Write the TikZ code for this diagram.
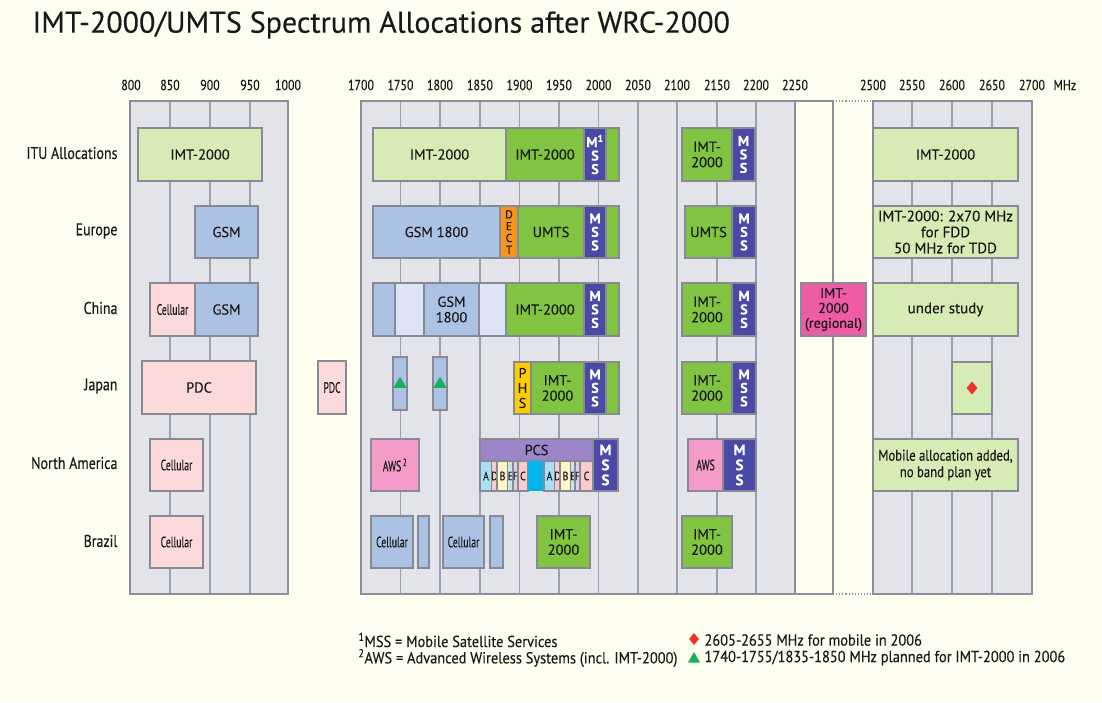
\documentclass[tikz,border=0pt]{standalone}
\usepackage{fontspec}
\setmainfont{PT Sans}[FakeBold=0.25]
\newfontfamily\narrowfont{PT Sans}[FakeStretch=0.82, FakeBold=0.25]
\newfontfamily\notefont{PT Sans}[FakeStretch=0.9, FakeBold=0.25]
\newfontfamily\squeezefont{PT Sans}[FakeStretch=0.64, FakeBold=0.25]
\usetikzlibrary{shapes.geometric}

\definecolor{bgcream}{RGB}{255,255,240}
\definecolor{panelfill}{RGB}{227,227,234}
\definecolor{panelline}{RGB}{140,142,156}
\definecolor{boxline}{RGB}{135,137,148}
\definecolor{lgreen}{RGB}{214,236,181}
\definecolor{dgreen}{RGB}{128,196,66}
\definecolor{mssblue}{RGB}{74,74,166}
\definecolor{gsmblue}{RGB}{172,194,228}
\definecolor{paleblue}{RGB}{220,228,245}
\definecolor{cellpink}{RGB}{253,218,218}
\definecolor{awspink}{RGB}{245,155,200}
\definecolor{regpink}{RGB}{238,92,166}
\definecolor{dectorange}{RGB}{247,148,30}
\definecolor{phsyellow}{RGB}{255,204,0}
\definecolor{pcspurple}{RGB}{155,135,200}
\definecolor{subA}{RGB}{170,224,245}
\definecolor{subD}{RGB}{250,202,206}
\definecolor{subB}{RGB}{255,245,200}
\definecolor{subE}{RGB}{200,232,232}
\definecolor{subF}{RGB}{218,208,234}
\definecolor{subgap}{RGB}{0,180,238}
\definecolor{trigreen}{RGB}{27,175,93}
\definecolor{diared}{RGB}{238,49,36}
\definecolor{inkgray}{RGB}{25,25,25}

% a band box given by its left, right, top and bottom edges
\newcommand\band[7][]{%
  \node[bandbox,#1,minimum width={#4-#3},minimum height={#6-#5}] (#2)
    at ({(#3+#4)/2},{(#5+#6)/2}) {#7};}

\tikzset{
  panel/.style={draw=panelline, line width=1.4pt, fill=panelfill, inner sep=0pt, outer sep=0pt},
  tickline/.style={draw=panelline!85, line width=1.3pt},
  bandbox/.style={draw=boxline, line width=1.1pt, inner sep=0pt, outer sep=0pt,
    align=center, text=inkgray, font=\fontsize{14.5}{15.5}\selectfont},
  squeeze/.style={font=\squeezefont\fontsize{15}{16}\selectfont},
  mss/.style={fill=mssblue, text=white, font=\bfseries\fontsize{14}{13.5}\selectfont},
  vert/.style={font=\fontsize{11.5}{11.8}\selectfont},
  sub/.style={font=\narrowfont\fontsize{12}{12}\selectfont},
  axislab/.style={text=inkgray, font=\narrowfont\fontsize{14.5}{15}\selectfont},
  rowlab/.style={anchor=east, text=inkgray, font=\narrowfont\fontsize{17}{18}\selectfont},
  note/.style={anchor=west, text=inkgray, font=\notefont\fontsize{16}{17}\selectfont},
  tri/.style={regular polygon, regular polygon sides=3, fill=trigreen, inner sep=0pt, minimum size=15pt},
  dia/.style={diamond, fill=diared, inner sep=0pt, minimum width=11pt, minimum height=13pt},
}

\begin{document}
\begin{tikzpicture}[x=1pt,y=-1pt]
\useasboundingbox (0,0) rectangle (1102,702);
\fill[bgcream] (0,0) rectangle (1102,702);

% title
\node[anchor=west, text=inkgray, font=\fontsize{30}{32}\selectfont] (title) at (29,25)
  {IMT-2000/UMTS Spectrum Allocations after WRC-2000};

% frequency panels
\node[panel, minimum width=158, minimum height=493] (p1) at (209,347.5) {};
\node[panel, minimum width=472, minimum height=493] (p2) at (597,347.5) {};
\node[panel, fill=bgcream, minimum width=38, minimum height=493] (p2gap) at (814,347.5) {};
\node[panel, minimum width=159, minimum height=493] (p3) at (952.5,347.5) {};
\draw[panelline, line width=1.1pt, dotted] (p2.north east) -- (p3.north west);
\draw[panelline, line width=1.1pt, dotted] (p2.south east) -- (p3.south west);

% 50 MHz grid
\foreach \x in {170,210,250,400.5,440,480,519.5,559,598.5,638,677,717,756}
  \draw[tickline] (\x,101.7) -- (\x,593.3);
\foreach \x in {912,952,992}
  \draw[tickline] (\x,101.7) -- (\x,593.3);

% axis labels
\foreach \x/\t in {131/800,170/850,210/900,250/950,288/1000,
  361/1700,400.5/1750,440/1800,480/1850,519.5/1900,559/1950,598.5/2000,
  638/2050,677/2100,717/2150,756/2200,795/2250,
  873/2500,912/2550,952/2600,992/2650,1032/2700}
  \node[axislab] (ax\t) at (\x,85) {\t};
\node[axislab, anchor=west] (axunit) at (1050,85) {MHz};

% row labels
\node[rowlab] (rowITU) at (121,153) {ITU Allocations};
\node[rowlab] (rowEU) at (121,231) {Europe};
\node[rowlab] (rowCN) at (121,308) {China};
\node[rowlab] (rowJP) at (121,386) {Japan};
\node[rowlab] (rowNA) at (121,463) {North America};
\node[rowlab] (rowBR) at (121,541) {Brazil};

% 800-1000 MHz
\band[fill=lgreen]{ituA}{138}{262}{128}{181}{IMT-2000}
\band[fill=gsmblue]{euA}{195}{258}{206}{258}{GSM}
\band[fill=cellpink, squeeze]{cnA1}{150}{195}{283}{336}{Cellular}
\band[fill=gsmblue]{cnA2}{195}{258}{283}{336}{GSM}
\band[fill=cellpink]{jpA}{142}{256}{361}{414}{PDC}
\band[fill=cellpink, squeeze]{jpA2}{318}{346}{361}{414}{PDC}
\band[fill=cellpink, squeeze]{naA}{150}{203}{439}{491}{Cellular}
\band[fill=cellpink, squeeze]{brA}{150}{203}{516}{568}{Cellular}

% 1700-2025 MHz
\band[fill=lgreen]{ituB1}{373}{506}{128}{181}{IMT-2000}
\band[fill=dgreen]{ituB2}{506}{584}{128}{181}{IMT-2000}
\band[mss]{ituB3}{584}{606}{128}{181}{M\textsuperscript{1}\\S\\S}
\band[fill=dgreen]{ituB4}{606}{619}{128}{181}{}

\band[fill=gsmblue]{euB1}{373}{500}{206}{258}{GSM 1800}
\band[fill=dectorange, vert]{euB2}{500}{518}{206}{258}{D\\E\\C\\T}
\band[fill=dgreen]{euB3}{518}{584}{206}{258}{UMTS}
\band[mss]{euB4}{584}{606}{206}{258}{M\\S\\S}
\band[fill=dgreen]{euB5}{606}{619}{206}{258}{}

\band[fill=gsmblue]{cnB1}{373}{395}{283}{336}{}
\band[fill=paleblue]{cnB2}{395}{424}{283}{336}{}
\band[fill=gsmblue]{cnB3}{424}{479}{283}{336}{GSM\\1800}
\band[fill=paleblue]{cnB4}{479}{506}{283}{336}{}
\band[fill=dgreen]{cnB5}{506}{584}{283}{336}{IMT-2000}
\band[mss]{cnB6}{584}{606}{283}{336}{M\\S\\S}
\band[fill=dgreen]{cnB7}{606}{619}{283}{336}{}

\band[fill=gsmblue]{jpB1}{393}{407}{357}{410}{}
\band[fill=gsmblue]{jpB2}{433}{447}{357}{410}{}
\node[tri] (triB1) at (400,384) {};
\node[tri] (triB2) at (440,384) {};
\band[fill=phsyellow, font=\fontsize{14}{15}\selectfont]{jpB3}{514}{531}{362}{414}{P\\H\\S}
\band[fill=dgreen]{jpB4}{531}{584}{362}{414}{IMT-\\2000}
\band[mss]{jpB5}{584}{606}{362}{414}{M\\S\\S}
\band[fill=dgreen]{jpB6}{606}{619}{362}{414}{}

\band[fill=awspink, squeeze]{naB1}{371}{419}{439}{491}{AWS\textsuperscript{\,2}}
\band[fill=pcspurple]{naPCS}{480}{593}{439}{461}{PCS}
\band[fill=subA, sub]{pcsA1}{480}{492}{461}{491}{A}
\band[fill=subD, sub]{pcsD1}{492}{497}{461}{491}{D}
\band[fill=subB, sub]{pcsB1}{497}{508}{461}{491}{B}
\band[fill=subE, sub]{pcsE1}{508}{513}{461}{491}{E}
\band[fill=subF, sub]{pcsF1}{513}{518}{461}{491}{F}
\band[fill=subD, sub]{pcsC1}{518}{528}{461}{491}{C}
\band[fill=subgap, draw=none]{pcsGap}{528}{544}{461}{491}{}
\band[fill=subA, sub]{pcsA2}{544}{555}{461}{491}{A}
\band[fill=subD, sub]{pcsD2}{555}{560}{461}{491}{D}
\band[fill=subB, sub]{pcsB2}{560}{571}{461}{491}{B}
\band[fill=subE, sub]{pcsE2}{571}{575}{461}{491}{E}
\band[fill=subF, sub]{pcsF2}{575}{580}{461}{491}{F}
\band[fill=subD, sub]{pcsC2}{580}{593}{461}{491}{C}
\band[mss, font=\bfseries\fontsize{15}{15}\selectfont]{naB2}{593}{618}{439}{491}{M\\S\\S}

\band[fill=gsmblue, squeeze]{brB1}{371}{413}{516}{568}{Cellular}
\band[fill=gsmblue]{brB2}{418}{429}{516}{568}{}
\band[fill=gsmblue, squeeze]{brB3}{443}{484}{516}{568}{Cellular}
\band[fill=gsmblue]{brB4}{490}{503}{516}{568}{}
\band[fill=dgreen]{brB5}{537}{590}{516}{568}{IMT-\\2000}

% 2100-2300 MHz
\band[fill=dgreen]{ituC1}{682}{732}{128}{181}{IMT-\\2000}
\band[mss]{ituC2}{732}{755}{128}{181}{M\\S\\S}
\band[fill=dgreen]{euC1}{685}{732}{206}{258}{UMTS}
\band[mss]{euC2}{732}{756}{206}{258}{M\\S\\S}
\band[fill=dgreen]{cnC1}{682}{732}{283}{336}{IMT-\\2000}
\band[mss]{cnC2}{732}{756}{283}{336}{M\\S\\S}
\band[fill=dgreen]{jpC1}{682}{732}{362}{414}{IMT-\\2000}
\band[mss]{jpC2}{732}{756}{362}{414}{M\\S\\S}
\band[fill=awspink, squeeze]{naC1}{688}{723}{439}{491}{AWS}
\band[mss, font=\bfseries\fontsize{15}{15}\selectfont]{naC2}{723}{756}{439}{491}{M\\S\\S}
\band[fill=dgreen]{brC1}{682}{732}{516}{568}{IMT-\\2000}
\band[fill=regpink, font=\fontsize{14}{15}\selectfont]{cnReg}{801}{866}{283}{336}{IMT-\\2000\\(regional)}

% 2500-2700 MHz
\band[fill=lgreen]{ituD}{873}{1018}{128}{181}{IMT-2000}
\band[fill=lgreen, font=\fontsize{15}{16}\selectfont]{euD}{873}{1018}{206}{258}{IMT-2000: 2x70 MHz\\for FDD\\50 MHz for TDD}
\band[fill=lgreen, font=\fontsize{15}{16}\selectfont]{cnD}{873}{1018}{283}{336}{under study}
\band[fill=lgreen]{jpD}{952}{992}{362}{414}{}
\node[dia] (diaD) at (jpD.center) {};
\band[fill=lgreen, font=\narrowfont\fontsize{15.5}{16.5}\selectfont]{naD}{873}{1018}{439}{491}{Mobile allocation added,\\no band plan yet}

% notes
\node[note] (note1) at (355,640) {\textsuperscript{1}MSS = Mobile Satellite Services};
\node[note] (note2) at (355,658) {\textsuperscript{2}AWS = Advanced Wireless Systems (incl. IMT-2000)};
\node[dia, minimum width=10pt, minimum height=12pt] (keyDia) at (694,639) {};
\node[note] (note3) at (701,640) {2605-2655 MHz for mobile in 2006};
\node[tri, minimum size=14pt] (keyTri) at (694,659) {};
\node[note] (note4) at (701,658) {1740-1755/1835-1850 MHz planned for IMT-2000 in 2006};
\end{tikzpicture}
\end{document}
